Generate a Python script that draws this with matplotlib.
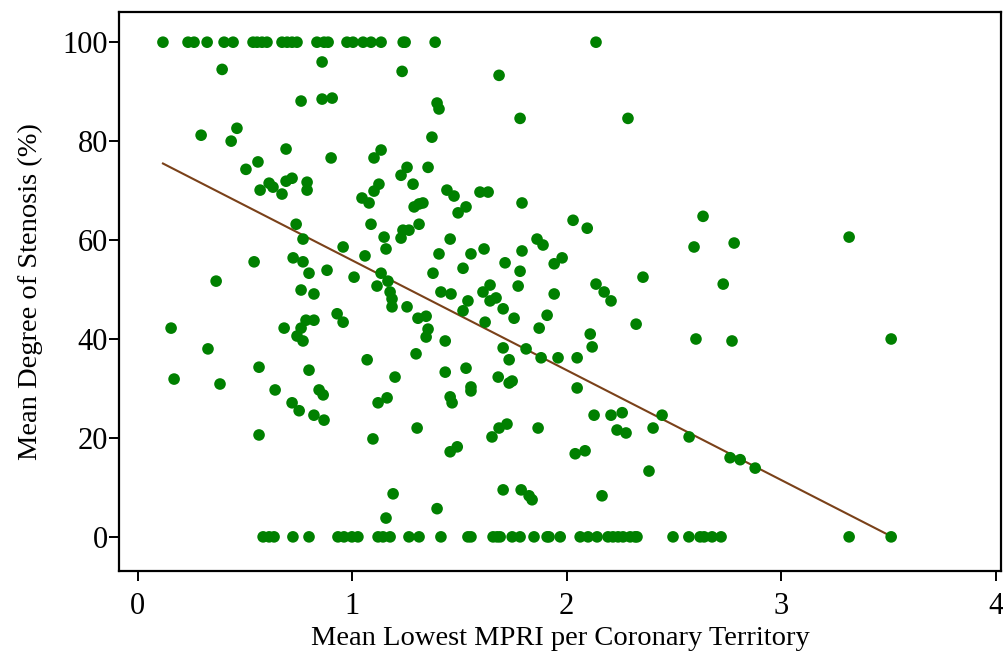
import numpy as np
import matplotlib
matplotlib.use("Agg")
import matplotlib.pyplot as plt

# points sitting at 100 % and at 0 % stenosis
x_at_100 = [0.118, 0.235, 0.263, 0.324, 0.403, 0.445, 0.538, 0.557, 0.580, 0.603,
            0.673, 0.697, 0.720, 0.743, 0.836, 0.869, 0.888, 0.976, 1.004, 1.051,
            1.088, 1.135, 1.238, 1.247, 1.387, 2.137]
x_at_0 = [0.585, 0.613, 0.636, 0.724, 0.799, 0.934, 0.962, 0.999, 1.027, 1.121,
          1.144, 1.177, 1.265, 1.312, 1.414, 1.540, 1.554, 1.657, 1.676, 1.690,
          1.746, 1.783, 1.848, 1.909, 1.918, 1.970, 2.063, 2.100, 2.142, 2.193,
          2.216, 2.240, 2.263, 2.296, 2.319, 2.328, 2.496, 2.570, 2.622, 2.641,
          2.678, 2.720, 3.317, 3.513]

# the rest of the points
mpri = [0.394, 0.860, 1.233, 0.762, 0.860, 0.907, 0.296, 0.463, 0.436, 0.692,
        0.902, 1.135, 1.102, 0.505, 0.561, 1.256, 1.228, 1.284, 0.613, 0.631,
        0.571, 0.673, 0.692, 0.720, 0.790, 0.790, 1.046, 1.079, 1.102, 1.125,
        1.289, 1.312, 1.685, 1.396, 1.405, 1.783, 2.286, 1.372, 1.354, 1.442,
        1.475, 1.596, 1.634, 1.792, 1.494, 1.531, 1.330, 2.636, 2.594, 2.781,
        3.317, 2.730, 2.603, 2.771, 3.513, 0.739, 1.088, 0.771, 0.958, 1.060,
        1.149, 1.158, 1.237, 1.228, 1.265, 1.312, 0.543, 0.725, 0.771, 0.799,
        0.883, 1.009, 1.135, 1.167, 1.116, 1.177, 1.186, 1.186, 1.256, 1.307,
        0.366, 0.762, 0.822, 0.930, 0.958, 0.785, 0.822, 0.762, 0.743, 0.771,
        0.683, 0.156, 0.328, 0.170, 0.384, 0.566, 0.799, 0.641, 0.846, 0.865,
        1.070, 1.200, 1.298, 1.163, 1.121, 0.720, 0.753, 0.822, 0.869, 0.566,
        1.303, 1.097, 1.191, 1.158, 2.049, 2.128, 2.207, 2.259, 2.235, 2.277,
        2.403, 2.445, 2.571, 2.040, 2.086, 2.384, 2.165, 1.457, 1.466, 1.554,
        1.554, 1.652, 1.685, 1.722, 1.867, 1.457, 1.490, 1.396, 1.704, 1.788,
        1.825, 1.839, 2.762, 2.809, 2.879, 2.030, 2.096, 1.457, 1.405, 1.554,
        1.615, 1.517, 1.377, 1.414, 1.461, 1.540, 1.517, 1.610, 1.643, 1.643,
        1.671, 1.704, 1.713, 1.792, 1.783, 1.774, 1.755, 1.620, 1.862, 1.890,
        1.942, 1.979, 1.942, 1.909, 1.872, 2.137, 2.175, 2.207, 2.356, 2.324,
        1.345, 1.354, 1.345, 1.434, 1.434, 1.531, 1.681, 1.732, 1.746, 1.704,
        1.732, 1.811, 1.881, 1.960, 2.049, 2.110, 2.119]
stenosis = [94.5, 96.0, 94.1, 88.1, 88.5, 88.7, 81.2, 82.6, 80.0, 78.4,
            76.6, 78.2, 76.6, 74.3, 75.8, 74.7, 73.1, 71.3, 71.5, 70.7,
            70.1, 69.3, 71.9, 72.5, 71.7, 70.1, 68.5, 67.5, 69.9, 71.3,
            66.7, 67.3, 93.3, 87.7, 86.5, 84.6, 84.6, 80.8, 74.7, 70.1,
            68.9, 69.7, 69.7, 67.5, 65.5, 66.7, 67.5, 64.8, 58.6, 59.4,
            60.6, 51.1, 40.0, 39.6, 40.0, 63.2, 63.2, 60.2, 58.6, 56.8,
            60.6, 58.2, 62.0, 60.4, 62.0, 63.2, 55.6, 56.4, 55.6, 53.3,
            53.9, 52.5, 53.3, 51.7, 50.7, 49.5, 48.1, 46.5, 46.5, 44.2,
            51.7, 49.9, 49.1, 45.1, 43.4, 43.8, 43.8, 42.2, 40.6, 39.6,
            42.2, 42.2, 38.0, 31.9, 30.9, 34.3, 33.7, 29.7, 29.7, 28.7,
            35.8, 32.3, 37.0, 28.1, 27.1, 27.1, 25.5, 24.6, 23.6, 20.6,
            22.0, 19.8, 8.7, 3.8, 30.1, 24.6, 24.6, 25.1, 21.6, 21.0,
            22.0, 24.6, 20.2, 16.8, 17.4, 13.3, 8.3, 28.3, 27.1, 30.3,
            29.5, 20.2, 22.0, 22.8, 22.0, 17.2, 18.2, 5.7, 9.5, 9.5,
            8.3, 7.5, 16.0, 15.6, 13.9, 64.0, 62.4, 60.2, 57.2, 57.2,
            58.2, 54.3, 53.3, 49.5, 49.1, 47.7, 45.7, 49.5, 50.9, 47.7,
            48.3, 46.1, 55.4, 57.8, 53.7, 50.7, 44.2, 43.4, 60.2, 59.0,
            55.2, 56.4, 49.1, 44.8, 42.2, 51.1, 49.5, 47.7, 52.5, 43.0,
            44.6, 42.0, 40.4, 39.6, 33.3, 34.1, 32.3, 31.1, 31.5, 38.2,
            35.8, 38.0, 36.2, 36.2, 36.2, 41.0, 38.4]

# fitted line
fit_intercept = 78.1
fit_slope = -22.2

x_ticks = [0, 1, 2, 3, 4]
y_ticks = [0, 20, 40, 60, 80, 100]

x_all = np.array(mpri + x_at_100 + x_at_0)
y_all = np.array(stenosis + [100] * len(x_at_100) + [0] * len(x_at_0))

plt.rcParams['font.family'] = ['Liberation Serif', 'DejaVu Serif']

fig = plt.figure(figsize=(10.04, 6.57), dpi=100)
ax = fig.add_axes([0.1185, 0.1309, 0.8785, 0.8508])

ax.scatter(x_all, y_all, s=70, color='#008000', edgecolors='none', zorder=3)

# regression line over the data range
xs = np.array([x_all.min(), x_all.max()])
ax.plot(xs, fit_intercept + fit_slope * xs, color='#7a4119', lw=1.5, zorder=2)

ax.set_xlim(-0.087, 4.025)
ax.set_ylim(-6.9, 106.1)
ax.set_xticks(x_ticks)
ax.set_yticks(y_ticks)
ax.tick_params(direction='out', length=7, width=1.4, labelsize=22)
ax.tick_params(axis='x', pad=8)
ax.tick_params(axis='y', pad=1)
for sp in ax.spines.values():
    sp.set_linewidth(1.6)

ax.set_xlabel("Mean Lowest MPRI per Coronary Territory", fontsize=20.5, labelpad=4)
ax.set_ylabel("Mean Degree of Stenosis (%)", fontsize=20.5, labelpad=14)

fig.savefig("out.png", dpi=100)
